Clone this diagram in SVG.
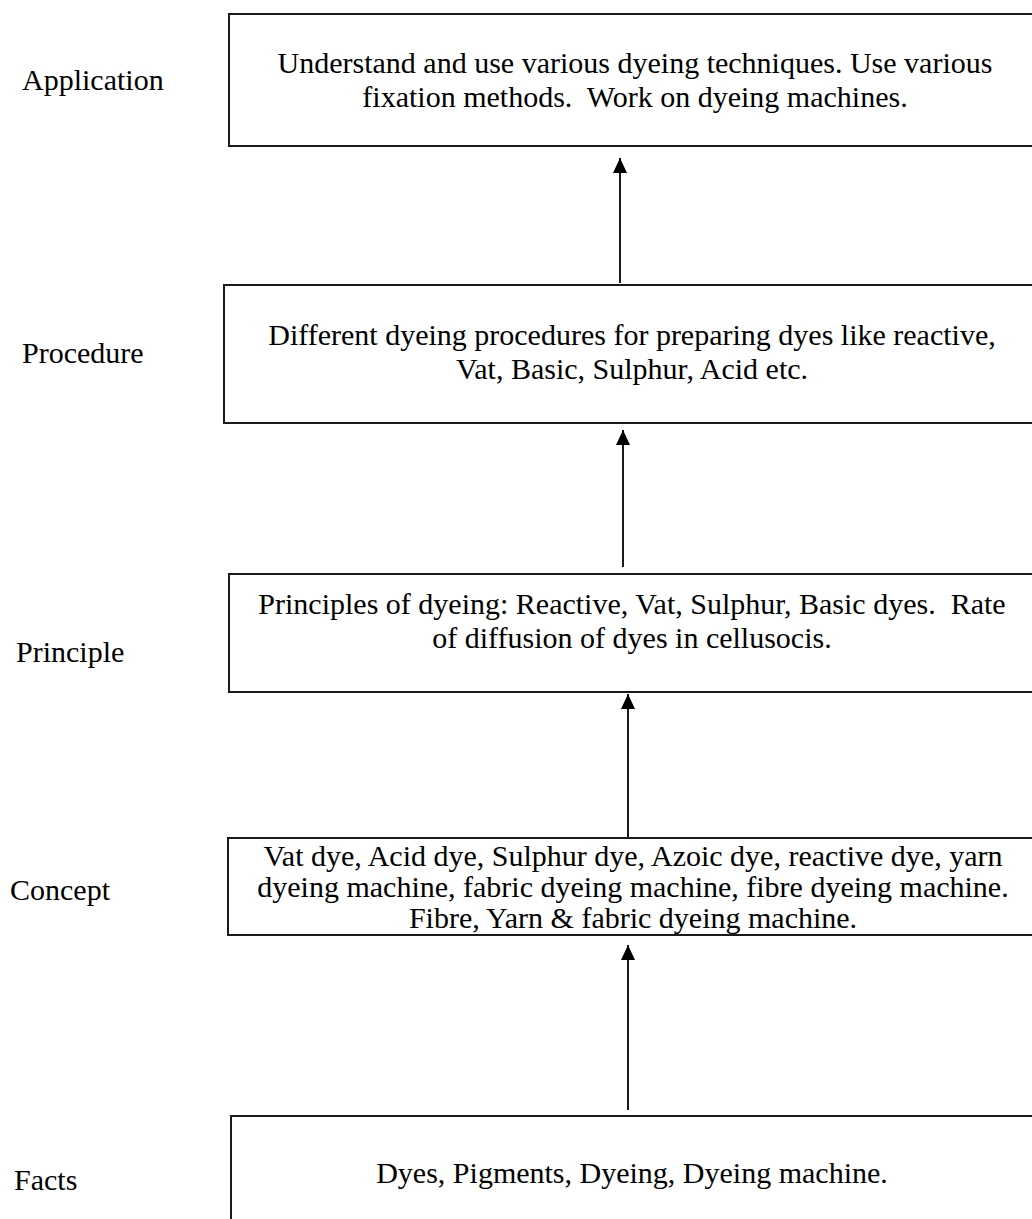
<svg xmlns="http://www.w3.org/2000/svg" width="1032" height="1219" viewBox="0 0 1032 1219">
  <style>
    .box { fill: #ffffff; stroke: #1a1a1a; stroke-width: 2; }
    .txt { font-family: "Liberation Serif", "Times New Roman", serif; font-size: 30px; fill: #000000; white-space: pre; }
    .mid { text-anchor: middle; }
    .link { stroke: #000000; stroke-width: 1.8; fill: none; marker-end: url(#head); }
  </style>
  <defs>
    <marker id="head" markerUnits="userSpaceOnUse" markerWidth="16" markerHeight="16" refX="15" refY="7" orient="auto">
      <path d="M0,0 L15,7 L0,14 Z" fill="#000000"/>
    </marker>
  </defs>
  <rect width="1032" height="1219" fill="#ffffff"/>

  <!-- level labels -->
  <g id="labels">
    <text class="txt" x="22" y="90">Application</text>
    <text class="txt" x="22" y="363">Procedure</text>
    <text class="txt" x="16" y="662">Principle</text>
    <text class="txt" x="10" y="900">Concept</text>
    <text class="txt" x="14" y="1190">Facts</text>
  </g>

  <g id="node-application">
    <rect class="box" x="229" y="14" width="815" height="132"/>
    <text class="txt mid" x="635" y="73">Understand and use various dyeing techniques. Use various</text>
    <text class="txt mid" x="635" y="107">fixation methods.  Work on dyeing machines.</text>
  </g>

  <g id="node-procedure">
    <rect class="box" x="224" y="285" width="820" height="138"/>
    <text class="txt mid" x="632" y="345">Different dyeing procedures for preparing dyes like reactive,</text>
    <text class="txt mid" x="632" y="379">Vat, Basic, Sulphur, Acid etc.</text>
  </g>

  <g id="node-principle">
    <rect class="box" x="229" y="574" width="815" height="118"/>
    <text class="txt mid" x="632" y="614">Principles of dyeing: Reactive, Vat, Sulphur, Basic dyes.  Rate</text>
    <text class="txt mid" x="632" y="648">of diffusion of dyes in cellusocis.</text>
  </g>

  <g id="node-concept">
    <rect class="box" x="228" y="838" width="816" height="97"/>
    <text class="txt mid" x="633" y="866">Vat dye, Acid dye, Sulphur dye, Azoic dye, reactive dye, yarn</text>
    <text class="txt mid" x="633" y="897">dyeing machine, fabric dyeing machine, fibre dyeing machine.</text>
    <text class="txt mid" x="633" y="928">Fibre, Yarn &amp; fabric dyeing machine.</text>
  </g>

  <g id="node-facts">
    <rect class="box" x="231" y="1116" width="813" height="120"/>
    <text class="txt mid" x="632" y="1183">Dyes, Pigments, Dyeing, Dyeing machine.</text>
  </g>

  <!-- upward connectors between levels -->
  <g id="connectors">
    <line class="link" x1="620" y1="283" x2="620" y2="158"/>
    <line class="link" x1="623" y1="567" x2="623" y2="430"/>
    <line class="link" x1="628" y1="837" x2="628" y2="694"/>
    <line class="link" x1="628" y1="1110" x2="628" y2="945"/>
  </g>
</svg>
